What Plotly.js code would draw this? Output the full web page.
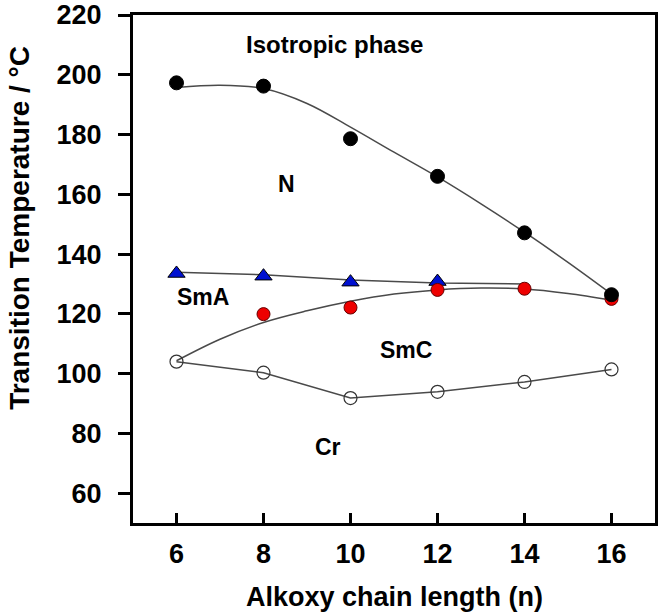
<!DOCTYPE html>
<html>
<head>
<meta charset="utf-8">
<script src="https://cdn.plot.ly/plotly-3.0.1.min.js"></script>
<style>html,body{margin:0;padding:0;background:#fff;}#chart{width:661px;height:612px;}</style>
</head>
<body>
<div id="chart"></div>
<script>
// Alkoxy chain length n
const chainLength = [6, 8, 10, 12, 14, 16];

// Measured transition temperatures (°C)
const isoN = [197.3, 196.2, 178.6, 166.0, 147.1, 126.4];      // N -> Isotropic (black)
const smaNx = [6, 8, 10, 12];
const smaN = [133.5, 132.6, 130.6, 130.8];                     // SmA -> N (blue triangles)
const smcX = [8, 10, 12, 14, 16];
const smcT = [119.9, 122.1, 128.0, 128.4, 125.0];              // SmC transitions (red)
const crT = [104.0, 100.3, 91.8, 93.9, 97.2, 101.4];           // Cr melting (open)

// Guide curves
const curveX = [6, 7, 8, 9, 10, 11, 12, 13, 14, 15, 16];
const nCurve = [195.7, 196.5, 195.4, 190.4, 182.5, 174.1, 165.8, 156.8, 147.3, 137.2, 126.6];
const smcCurve = [104.3, 111.5, 117.1, 121.0, 124.2, 126.6, 128.0, 128.6, 128.3, 126.8, 124.6];
const smaLineX = [6, 8, 10, 12, 14];
const smaLine = [133.9, 133.1, 131.3, 130.3, 130.0];

// Phase labels
const phaseLabels = ["Isotropic phase", "N", "SmA", "SmC", "Cr"];
const phaseX = [9.64, 8.53, 6.62, 11.28, 9.48];
const phaseY = [210, 163.3, 125.5, 108, 75.4];
const phaseSize = [24, 23, 23, 23, 23];

const xTicks = [6, 8, 10, 12, 14, 16];
const yTicks = [60, 80, 100, 120, 140, 160, 180, 200, 220];

const xTitle = 'Alkoxy chain length (n)';
const yTitle = 'Transition Temperature / °C';

const lineColor = '#4a4a4a';
const boldFont = {family: 'Liberation Sans, Arial, sans-serif', weight: 'bold', color: '#000'};

const traces = [
  {x: curveX, y: nCurve, mode: 'lines', line: {color: lineColor, width: 1.5, shape: 'spline'}, hoverinfo: 'skip'},
  {x: curveX, y: smcCurve, mode: 'lines', line: {color: lineColor, width: 1.5, shape: 'spline'}, hoverinfo: 'skip'},
  {x: smaLineX, y: smaLine, mode: 'lines', line: {color: lineColor, width: 1.5}, hoverinfo: 'skip'},
  {x: chainLength, y: crT, mode: 'lines+markers', line: {color: lineColor, width: 1.5},
   marker: {symbol: 'circle-open', size: 13, color: '#333', line: {width: 1.2}}},
  {x: smaNx, y: smaN, mode: 'markers',
   marker: {symbol: 'triangle-up', size: 15, color: '#0010d0', line: {color: '#000', width: 1}}},
  {x: smcX, y: smcT, mode: 'markers',
   marker: {symbol: 'circle', size: 13, color: '#ee0000', line: {color: '#600', width: 1}}},
  {x: chainLength, y: isoN, mode: 'markers',
   marker: {symbol: 'circle', size: 14, color: '#000', line: {color: '#000', width: 1}}}
];

const annotations = phaseLabels.map((t, i) => ({
  x: phaseX[i], y: phaseY[i], xref: 'x', yref: 'y', text: t, showarrow: false,
  font: Object.assign({}, boldFont, {size: phaseSize[i]})
}));
annotations.push({
  xref: 'paper', yref: 'paper', x: -0.2165, y: 0.581, xanchor: 'center', yanchor: 'middle',
  textangle: -90, text: yTitle, showarrow: false,
  font: Object.assign({}, boldFont, {size: 28})
});
annotations.push({
  xref: 'paper', yref: 'paper', x: 0.5, y: -0.146, xanchor: 'center', yanchor: 'middle',
  text: xTitle, showarrow: false,
  font: Object.assign({}, boldFont, {size: 27})
});

const layout = {
  width: 661, height: 612,
  margin: {l: 133, r: 6, t: 15, b: 89},
  paper_bgcolor: '#fff', plot_bgcolor: '#fff',
  showlegend: false,
  xaxis: {
    range: [5, 17], tickvals: xTicks, ticktext: xTicks.map(String),
    ticks: 'inside', ticklen: 10, tickwidth: 3, tickcolor: '#000',
    showline: true, linewidth: 3, linecolor: '#000', mirror: true,
    showgrid: false, zeroline: false,
    tickfont: Object.assign({}, boldFont, {size: 27}),
    ticklabelstandoff: 5
  },
  yaxis: {
    range: [50, 220], tickvals: yTicks, ticktext: yTicks.map(String),
    ticks: 'outside', ticklen: 12, tickwidth: 3, tickcolor: '#000',
    showline: true, linewidth: 3, linecolor: '#000', mirror: true,
    showgrid: false, zeroline: false,
    tickfont: Object.assign({}, boldFont, {size: 27}),
    ticklabelstandoff: 11
  },
  annotations: annotations
};

Plotly.newPlot('chart', traces, layout, {displayModeBar: false, staticPlot: true});
</script>
</body>
</html>
